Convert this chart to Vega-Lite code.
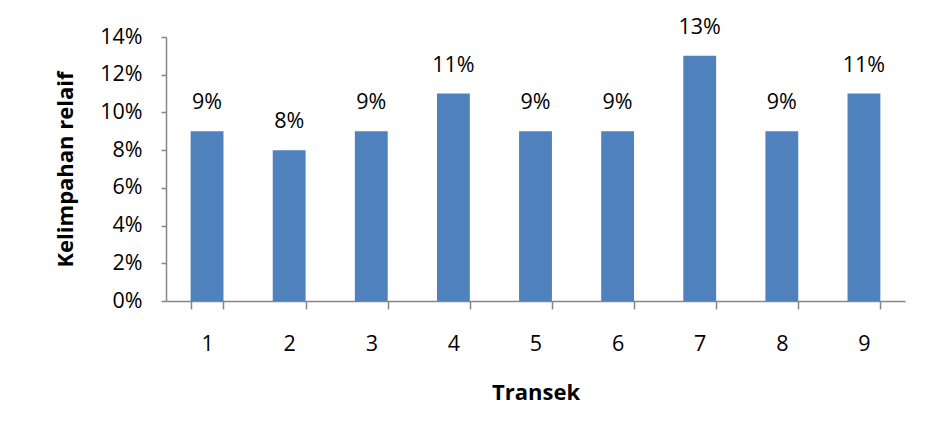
{
  "$schema": "https://vega.github.io/schema/vega-lite/v6.json",
  "width": 739,
  "height": 264,
  "autosize": {"type": "none"},
  "padding": {"left": 166, "top": 37, "right": 20, "bottom": 141},
  "background": "white",
  "data": {
    "values": [
      {"transek": "1", "kelimpahan": 0.09},
      {"transek": "2", "kelimpahan": 0.08},
      {"transek": "3", "kelimpahan": 0.09},
      {"transek": "4", "kelimpahan": 0.11},
      {"transek": "5", "kelimpahan": 0.09},
      {"transek": "6", "kelimpahan": 0.09},
      {"transek": "7", "kelimpahan": 0.13},
      {"transek": "8", "kelimpahan": 0.09},
      {"transek": "9", "kelimpahan": 0.11}
    ]
  },
  "encoding": {
    "x": {
      "field": "transek",
      "type": "ordinal",
      "title": "Transek",
      "scale": {"paddingInner": 0.6, "paddingOuter": 0.3},
      "axis": {
        "labelAngle": 0,
        "tickBand": "extent",
        "tickSize": 8,
        "labelPadding": 24,
        "titlePadding": 28
      }
    },
    "y": {
      "field": "kelimpahan",
      "type": "quantitative",
      "title": "Kelimpahan relaif",
      "scale": {"domain": [0, 0.14]},
      "axis": {
        "format": ".0%",
        "values": [0, 0.02, 0.04, 0.06, 0.08, 0.1, 0.12, 0.14],
        "grid": false,
        "tickSize": 5,
        "labelPadding": 19,
        "titlePadding": 22
      }
    }
  },
  "layer": [
    {"mark": {"type": "bar", "color": "#4F81BD"}},
    {
      "mark": {"type": "text", "baseline": "bottom", "dy": -17, "fontSize": 21.5, "color": "#000000"},
      "encoding": {"text": {"field": "kelimpahan", "format": ".0%"}}
    }
  ],
  "config": {
    "font": "Open Sans",
    "view": {"stroke": null},
    "axis": {
      "domainColor": "#868686",
      "tickColor": "#868686",
      "domainWidth": 1.5,
      "tickWidth": 1.5,
      "labelFont": "Open Sans",
      "labelFontSize": 21.5,
      "labelColor": "#000000",
      "titleFont": "Open Sans",
      "titleFontSize": 22,
      "titleFontWeight": "bold",
      "titleColor": "#000000"
    }
  }
}
